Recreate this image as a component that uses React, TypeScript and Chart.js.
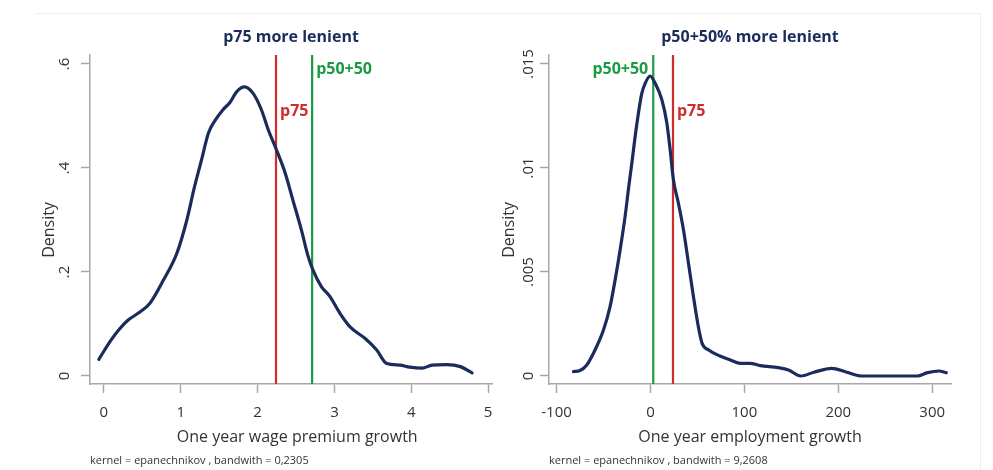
import React, { useEffect, useRef } from "react";
import { Chart, registerables } from "chart.js";

Chart.register(...registerables);

const FONT = "'Open Sans', sans-serif";
const NAVY = "#1b2c5c";
const RED = "#d22b2b";
const GREEN = "#1a9a44";
const AXIS = "#a8a8a8";
const TEXT = "#333333";

// ---- Left panel data ----
const LEFT_TITLE = "p75 more lenient";
const LEFT_X_TITLE = "   One year wage premium growth";
const LEFT_NOTE = "kernel = epanechnikov , bandwith = 0,2305";
const LEFT_X = [
  -0.065, 0.01, 0.08, 0.19, 0.32, 0.45, 0.6, 0.77, 0.95, 1.08, 1.18, 1.27,
  1.36, 1.45, 1.55, 1.64, 1.73, 1.83, 1.94, 2.05, 2.14, 2.24, 2.36, 2.46, 2.57,
  2.66, 2.72, 2.83, 2.94, 3.07, 3.2, 3.4, 3.55, 3.68, 3.85, 3.98, 4.14, 4.27,
  4.46, 4.64, 4.79,
];
const LEFT_Y = [
  0.032, 0.05, 0.066, 0.088, 0.108, 0.121, 0.14, 0.183, 0.236, 0.3, 0.364,
  0.415, 0.467, 0.492, 0.512, 0.526, 0.547, 0.556, 0.544, 0.512, 0.473, 0.437,
  0.39, 0.338, 0.281, 0.229, 0.204, 0.172, 0.153, 0.121, 0.095, 0.072, 0.05,
  0.024, 0.021, 0.017, 0.015, 0.021, 0.022, 0.018, 0.006,
];
const LEFT_X_TICKS = [0, 1, 2, 3, 4, 5];
const LEFT_X_TICK_LABELS = ["0", "1", "2", "3", "4", "5"];
const LEFT_Y_TICKS = [0, 0.2, 0.4, 0.6];
const LEFT_Y_TICK_LABELS = ["0", ".2", ".4", ".6"];
const LEFT_X_MIN = -0.18;
const LEFT_X_MAX = 5.05;
const LEFT_Y_MIN = -0.0154;
const LEFT_Y_MAX = 0.6173;
const LEFT_P75 = 2.24;
const LEFT_P50_50 = 2.71;

// ---- Right panel data ----
const RIGHT_TITLE = "p50+50% more lenient";
const RIGHT_X_TITLE = "One year employment growth";
const RIGHT_NOTE = "kernel = epanechnikov , bandwith = 9,2608";
const RIGHT_X = [
  -82, -75, -67.8, -59, -50, -43, -37.6, -32.3, -27, -23.1, -19.8, -16.3,
  -12.8, -9.2, -5.6, -0.3, 5, 12.2, 17.5, 21, 24.5, 29.8, 35.2, 40.5, 45.8, 51,
  55, 62, 74, 85, 96, 106, 117, 136, 147, 160, 174, 193, 209, 225, 284, 295,
  307, 315,
];
const RIGHT_Y = [
  0.00021, 0.00026, 0.00053, 0.00125, 0.00221, 0.00333, 0.00462, 0.00606,
  0.00766, 0.0091, 0.01023, 0.01151, 0.01263, 0.01359, 0.01407, 0.01442,
  0.01407, 0.01327, 0.01215, 0.01087, 0.00942, 0.0083, 0.00702, 0.00542,
  0.00381, 0.00237, 0.00157, 0.00125, 0.00096, 0.00077, 0.00061, 0.00061,
  0.0005, 0.0004, 0.00029, 0.0, 0.00018, 0.00037, 0.00018, 0.0, 0.0, 0.00016,
  0.00024, 0.00016,
];
const RIGHT_X_TICKS = [-100, 0, 100, 200, 300];
const RIGHT_X_TICK_LABELS = ["-100", "0", "100", "200", "300"];
const RIGHT_Y_TICKS = [0, 0.005, 0.01, 0.015];
const RIGHT_Y_TICK_LABELS = ["0", ".005", ".01", ".015"];
const RIGHT_X_MIN = -108;
const RIGHT_X_MAX = 320;
const RIGHT_Y_MIN = -0.000385;
const RIGHT_Y_MAX = 0.01543;
const RIGHT_P75 = 24;
const RIGHT_P50_50 = 3;

type RefLabel = { text: string; value: number; color: string; side: "left" | "right"; dy: number };

type PanelCfg = {
  left: number;
  width: number;
  yAxisWidth: number;
  yTitlePad: number;
  yTickPad: number;
  padRight: number;
  title: string;
  xTitle: string;
  note: string;
  xs: number[];
  ys: number[];
  xTicks: number[];
  xTickLabels: string[];
  yTicks: number[];
  yTickLabels: string[];
  xMin: number;
  xMax: number;
  yMin: number;
  yMax: number;
  p75: number;
  p5050: number;
  refLabels: RefLabel[];
};

const LEFT_CFG: PanelCfg = {
  left: 0,
  width: 496,
  yAxisWidth: 90,
  yTitlePad: 39.4,
  yTickPad: 9.7,
  padRight: 4,
  title: LEFT_TITLE,
  xTitle: LEFT_X_TITLE,
  note: LEFT_NOTE,
  xs: LEFT_X,
  ys: LEFT_Y,
  xTicks: LEFT_X_TICKS,
  xTickLabels: LEFT_X_TICK_LABELS,
  yTicks: LEFT_Y_TICKS,
  yTickLabels: LEFT_Y_TICK_LABELS,
  xMin: LEFT_X_MIN,
  xMax: LEFT_X_MAX,
  yMin: LEFT_Y_MIN,
  yMax: LEFT_Y_MAX,
  p75: LEFT_P75,
  p5050: LEFT_P50_50,
  refLabels: [
    { text: "p75", value: LEFT_P75, color: RED, side: "right", dy: 56 },
    { text: "p50+50", value: LEFT_P50_50, color: GREEN, side: "right", dy: 14 },
  ],
};

const RIGHT_CFG: PanelCfg = {
  left: 496,
  width: 497,
  yAxisWidth: 53,
  yTitlePad: 3.4,
  yTickPad: -3.4,
  padRight: 42,
  title: RIGHT_TITLE,
  xTitle: RIGHT_X_TITLE,
  note: RIGHT_NOTE,
  xs: RIGHT_X,
  ys: RIGHT_Y,
  xTicks: RIGHT_X_TICKS,
  xTickLabels: RIGHT_X_TICK_LABELS,
  yTicks: RIGHT_Y_TICKS,
  yTickLabels: RIGHT_Y_TICK_LABELS,
  xMin: RIGHT_X_MIN,
  xMax: RIGHT_X_MAX,
  yMin: RIGHT_Y_MIN,
  yMax: RIGHT_Y_MAX,
  p75: RIGHT_P75,
  p5050: RIGHT_P50_50,
  refLabels: [
    { text: "p50+50", value: RIGHT_P50_50, color: GREEN, side: "left", dy: 14 },
    { text: "p75", value: RIGHT_P75, color: RED, side: "right", dy: 56 },
  ],
};

function Panel({ cfg }: { cfg: PanelCfg }) {
  const ref = useRef<HTMLCanvasElement>(null);

  useEffect(() => {
    if (!ref.current) return;
    const labelPlugin = {
      id: "refLabels",
      afterDatasetsDraw(chart: any) {
        const { ctx, chartArea, scales } = chart;
        ctx.save();
        ctx.font = `bold 16px ${FONT}`;
        ctx.textBaseline = "middle";
        cfg.refLabels.forEach((l) => {
          const px = scales.x.getPixelForValue(l.value);
          ctx.fillStyle = l.color;
          if (l.side === "right") {
            ctx.textAlign = "left";
            ctx.fillText(l.text, px + 4, chartArea.top + l.dy);
          } else {
            ctx.textAlign = "right";
            ctx.fillText(l.text, px - 5, chartArea.top + l.dy);
          }
        });
        ctx.restore();
      },
    };

    const chart = new Chart(ref.current, {
      type: "line",
      data: {
        datasets: [
          {
            data: cfg.xs.map((x, i) => ({ x, y: cfg.ys[i] })),
            borderColor: NAVY,
            borderWidth: 3.2,
            pointRadius: 0,
            cubicInterpolationMode: "monotone",
            borderJoinStyle: "round",
            borderCapStyle: "round",
            fill: false,
          },
          {
            data: [
              { x: cfg.p75, y: cfg.yMin },
              { x: cfg.p75, y: cfg.yMax },
            ],
            borderColor: RED,
            borderWidth: 2.2,
            pointRadius: 0,
          },
          {
            data: [
              { x: cfg.p5050, y: cfg.yMin },
              { x: cfg.p5050, y: cfg.yMax },
            ],
            borderColor: GREEN,
            borderWidth: 2.2,
            pointRadius: 0,
          },
        ],
      },
      options: {
        animation: false,
        responsive: false,
        maintainAspectRatio: false,
        events: [],
        layout: { padding: { left: 0, right: cfg.padRight, top: 0, bottom: 2.8 } },
        plugins: {
          legend: { display: false },
          tooltip: { enabled: false },
          title: {
            display: true,
            text: cfg.title,
            fullSize: false,
            color: NAVY,
            font: { family: FONT, size: 16, weight: "bold" },
            padding: { top: 27.4, bottom: 8.4 },
          },
          subtitle: {
            display: true,
            text: cfg.note,
            position: "bottom",
            align: "start",
            fullSize: false,
            color: TEXT,
            font: { family: FONT, size: 11 },
            padding: { top: 0, bottom: 0 },
          },
        },
        scales: {
          x: {
            type: "linear",
            min: cfg.xMin,
            max: cfg.xMax,
            afterBuildTicks: (s: any) => {
              s.ticks = cfg.xTicks.map((v) => ({ value: v }));
            },
            afterFit: (s: any) => {
              s.height = 70;
              s.paddingLeft = 0;
              s.paddingRight = 0;
            },
            ticks: {
              autoSkip: false,
              maxRotation: 0,
              minRotation: 0,
              padding: 11,
              color: TEXT,
              font: { family: FONT, size: 15 },
              callback: (_v: any, i: number) => cfg.xTickLabels[i],
            },
            grid: {
              display: true,
              drawOnChartArea: false,
              drawTicks: true,
              tickLength: 9,
              tickColor: AXIS,
              tickWidth: 1.5,
            },
            border: { display: true, color: AXIS, width: 1.5 },
            title: {
              display: true,
              text: cfg.xTitle,
              color: TEXT,
              font: { family: FONT, size: 16 },
              padding: { top: 0, bottom: 7.4 },
            },
          },
          y: {
            type: "linear",
            min: cfg.yMin,
            max: cfg.yMax,
            afterBuildTicks: (s: any) => {
              s.ticks = cfg.yTicks.map((v) => ({ value: v }));
            },
            afterFit: (s: any) => {
              s.width = cfg.yAxisWidth;
              s.paddingTop = 0;
              s.paddingBottom = 0;
            },
            ticks: {
              autoSkip: false,
              minRotation: 90,
              maxRotation: 90,
              crossAlign: "center",
              padding: cfg.yTickPad,
              color: TEXT,
              font: { family: FONT, size: 15 },
              callback: (_v: any, i: number) => cfg.yTickLabels[i],
            },
            grid: {
              display: true,
              drawOnChartArea: false,
              drawTicks: true,
              tickLength: 9,
              tickColor: AXIS,
              tickWidth: 1.5,
            },
            border: { display: true, color: AXIS, width: 1.5 },
            title: {
              display: true,
              text: "Density     ",
              color: TEXT,
              font: { family: FONT, size: 16 },
              padding: { top: cfg.yTitlePad, bottom: 0 },
            },
          },
        },
      } as any,
      plugins: [labelPlugin],
    });
    return () => chart.destroy();
  }, [cfg]);

  return (
    <canvas
      ref={ref}
      width={cfg.width}
      height={470}
      style={{ position: "absolute", left: cfg.left, top: 0, width: cfg.width, height: 470 }}
    />
  );
}

export default function App() {
  return (
    <div
      style={{
        position: "absolute",
        left: 0,
        top: 0,
        width: 993,
        height: 470,
        background: "#ffffff",
        overflow: "hidden",
      }}
    >
      <div
        style={{
          position: "absolute",
          left: 35,
          top: 13,
          width: 945,
          height: 470,
          borderTop: "1px solid #efefef",
          borderRight: "1px solid #efefef",
        }}
      />
      <Panel cfg={LEFT_CFG} />
      <Panel cfg={RIGHT_CFG} />
    </div>
  );
}
